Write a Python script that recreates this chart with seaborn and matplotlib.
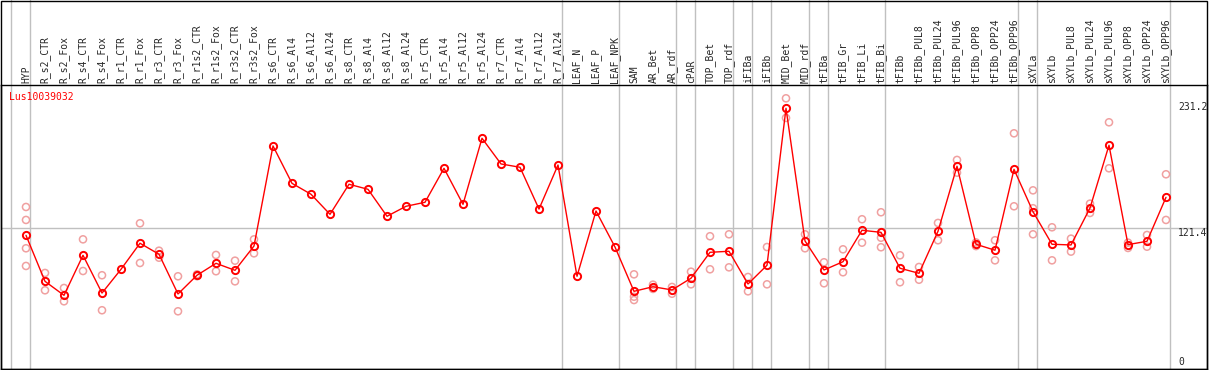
import matplotlib
matplotlib.use('Agg')
import numpy as np
import pandas as pd
import matplotlib.pyplot as plt
import seaborn as sns
from matplotlib.patches import Rectangle

gene = 'Lus10039032'

tissues = ['HYP', 'R_s2_CTR', 'R_s2_Fox', 'R_s4_CTR', 'R_s4_Fox', 'R_r1_CTR', 'R_r1_Fox',
           'R_r3_CTR', 'R_r3_Fox', 'R_r1s2_CTR', 'R_r1s2_Fox', 'R_r3s2_CTR', 'R_r3s2_Fox',
           'R_s6_CTR', 'R_s6_Al4', 'R_s6_Al12', 'R_s6_Al24', 'R_s8_CTR', 'R_s8_Al4',
           'R_s8_Al12', 'R_s8_Al24', 'R_r5_CTR', 'R_r5_Al4', 'R_r5_Al12', 'R_r5_Al24',
           'R_r7_CTR', 'R_r7_Al4', 'R_r7_Al12', 'R_r7_Al24', 'LEAF_N', 'LEAF_P', 'LEAF_NPK',
           'SAM', 'AR_Bet', 'AR_rdf', 'cPAR', 'TOP_Bet', 'TOP_rdf', 'iFIBa', 'iFIBb',
           'MID_Bet', 'MID_rdf', 'tFIBa', 'tFIB_Gr', 'tFIB_Li', 'tFIB_Bi', 'tFIBb',
           'tFIBb_PUL8', 'tFIBb_PUL24', 'tFIBb_PUL96', 'tFIBb_OPP8', 'tFIBb_OPP24',
           'tFIBb_OPP96', 'sXYLa', 'sXYLb', 'sXYLb_PUL8', 'sXYLb_PUL24', 'sXYLb_PUL96',
           'sXYLb_OPP8', 'sXYLb_OPP24', 'sXYLb_OPP96']

means = [115.0, 74.9, 62.7, 97.6, 64.7, 85.4, 108.1, 98.5, 63.9, 80.2, 90.6, 84.5, 105.7,
         192.9, 160.3, 150.8, 133.3, 159.5, 155.1, 131.6, 140.3, 143.8, 173.4, 142.0, 199.6,
         177.2, 174.3, 137.9, 176.3, 79.3, 136.2, 104.8,
         66.2, 70.2, 67.4, 77.6, 100.2, 101.1, 72.6, 88.9, 225.7, 110.1, 84.8, 92.0, 119.4,
         117.6, 86.3, 81.9, 118.5, 175.2, 107.2, 102.0, 172.5, 135.6, 107.2, 106.6, 138.8,
         193.5, 106.9, 109.8, 148.1]

replicates = [
    [139.7, 128.4, 103.7, 88.3], [82.2, 67.1], [69.1, 57.5], [111.5, 83.9], [80.2, 49.7],
    [], [125.5, 90.9], [101.6, 95.5], [79.3, 48.8], [81.0, 79.4], [97.9, 83.7],
    [92.9, 74.9], [111.5, 99.3],
    [], [], [], [], [], [], [], [], [], [], [], [], [], [], [], [], [], [], [],
    [81.0, 61.5, 58.6], [72.0, 68.3], [70.0, 64.1], [83.3, 72.3], [114.2, 85.4],
    [115.9, 87.1], [78.7, 66.2], [104.8, 72.3], [234.4, 217.3], [115.9, 103.7],
    [91.5, 73.2], [102.8, 82.8], [129.0, 108.6], [135.1, 112.9, 104.6], [97.6, 74.1],
    [87.4, 76.3], [125.8, 110.7], [180.7, 169.6], [108.8, 105.6], [110.7, 93.2],
    [203.9, 140.3], [154.2, 138.6, 115.9], [122.0, 93.2], [112.1, 100.8], [142.6, 134.5],
    [213.5, 173.4], [108.6, 104.0], [115.3, 105.1], [168.2, 128.4],
]

# index of last tissue in each group (-1 = line before the first one)
group_ends = [-1, 0, 28, 31, 34, 35, 37, 38, 39, 41, 42, 45, 52, 53, 60]
y_ticks = [0, 121.4, 231.2]

df_mean = pd.DataFrame({'pos': np.arange(len(tissues)), 'value': means})
df_rep = pd.DataFrame([(i, v) for i, r in enumerate(replicates) for v in r],
                      columns=['pos', 'value'])

sns.set_style('white')
plt.rcParams['font.family'] = ['DejaVu Sans Mono']

W, H = 1209, 370
fig = plt.figure(figsize=(W / 100, H / 100), dpi=100)
ax = fig.add_axes([1 / W, 1 / H, 1206 / W, 284 / H])

grey = '#c0c0c0'
for g in group_ends:
    ax.axvline(g + 0.22, ymin=0, ymax=369 / 284, color=grey, lw=1, clip_on=False, zorder=0)
ax.axhline(121.4, color=grey, lw=1, zorder=0)

sns.scatterplot(data=df_rep, x='pos', y='value', ax=ax, marker='o', s=26,
                facecolor='none', edgecolor='#f0a0a0', linewidth=1.1, zorder=2)
sns.lineplot(data=df_mean, x='pos', y='value', ax=ax, color='red', lw=1,
             marker='o', ms=5.2, mfc='none', mec='red', mew=1.4, zorder=3)

ax.set_xlim(-25 / 19, 1181 / 19)
ax.set_ylim(-1.5, 246.0)

ax.xaxis.tick_top()
ax.set_xticks(np.arange(len(tissues)))
ax.set_xticklabels(tissues, rotation=90, fontsize=7)
ax.tick_params(axis='x', length=0, pad=1.5)

ax.yaxis.tick_right()
ax.set_yticks(y_ticks)
ax.set_yticklabels(['0', '121.4', '231.2'], fontsize=7)
ax.tick_params(axis='y', length=0, pad=-20.9)
for lab in ax.get_yticklabels():
    lab.set_verticalalignment('bottom' if lab.get_text() == '0' else 'top')

ax.set_xlabel('')
ax.set_ylabel('')
for sp in ax.spines.values():
    sp.set_color('black')
    sp.set_linewidth(1)

ax.text(8 / 1206, (369 - 97) / 284, gene, transform=ax.transAxes, color='red',
        fontsize=7, va='center', ha='left')

fig.patches.append(Rectangle((1 / W, 1 / H), 1206 / W, 368.5 / H, transform=fig.transFigure,
                             fill=False, ec='black', lw=1))

fig.savefig('out.png', dpi=100, facecolor='white')
